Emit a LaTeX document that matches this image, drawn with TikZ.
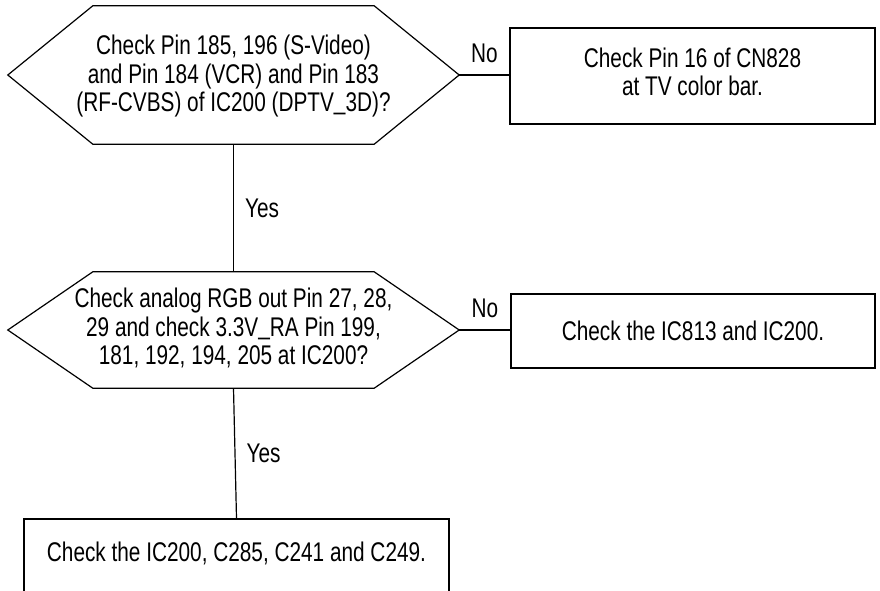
\documentclass[tikz,border=0pt]{standalone}
\usepackage{fontspec}
\setmainfont{Liberation Sans}[FakeStretch=0.77]
\newcommand{\usc}{\raisebox{2pt}{\_}}
\begin{document}
\begin{tikzpicture}[x=1pt,y=-1pt,
  every node/.style={font=\fontsize{27}{28.5}\selectfont, inner sep=0pt},
  box/.style={draw, line width=1.2pt},
  hexa/.style={minimum width=451pt},
  txt/.style={align=center},
  conn/.style={line width=1.2pt},
  lbl/.style={font=\fontsize{27}{28.5}\selectfont}]
\useasboundingbox (0,0) rectangle (880,590);
\clip (0,0) rectangle (880,590);
% decision 1
\node[hexa, minimum height=138pt] (q1) at (233.5,75) {};
\draw[conn] (q1.west) -- ([xshift=85pt]q1.north west) -- ([xshift=-85pt]q1.north east)
  -- (q1.east) -- ([xshift=-85pt]q1.south east) -- ([xshift=85pt]q1.south west) -- cycle;
\node[txt] (t1) at ([yshift=-1.5pt]q1.center)
  {Check Pin 185, 196 (S-Video)\\and Pin 184 (VCR) and Pin 183\\(RF-CVBS) of IC200 (DPTV\usc 3D)?};
\node[box, minimum width=365pt, minimum height=96pt] (b1) at (692.5,76) {};
\node[txt] (t2) at ([yshift=4pt]b1.center) {Check Pin 16 of CN828\\at TV color bar.};
% decision 2
\node[hexa, minimum height=116pt] (q2) at (233.5,330) {};
\draw[conn] (q2.west) -- ([xshift=85pt]q2.north west) -- ([xshift=-85pt]q2.north east)
  -- (q2.east) -- ([xshift=-85pt]q2.south east) -- ([xshift=85pt]q2.south west) -- cycle;
\node[txt] (t3) at ([yshift=2pt]q2.center)
  {Check analog RGB out Pin 27, 28,\\29 and check 3.3V\usc RA Pin 199,\\181, 192, 194, 205 at IC200?};
\node[box, minimum width=364pt, minimum height=74pt] (b2) at (693,331) {};
\node[txt] (t4) at (b2.center) {Check the IC813 and IC200.};
% final box
\node[box, minimum width=425pt, minimum height=102pt] (b3) at (236.5,570) {};
\node[txt] (t5) at ([yshift=17pt]b3.center) {Check the IC200, C285, C241 and C249.};
% connectors
\draw[conn] (q1.east) -- node[lbl, midway, above=12pt] {No} (b1.west |- q1.east);
\draw[conn] (q2.east) -- node[lbl, midway, above=12pt] {No} (b2.west |- q2.east);
\draw[conn] (q1.south) -- node[lbl, midway, right=11pt] {Yes} (q2.north);
\draw[conn] (q2.south) -- node[lbl, midway, right=11pt] {Yes} (b3.north);
\end{tikzpicture}
\end{document}
